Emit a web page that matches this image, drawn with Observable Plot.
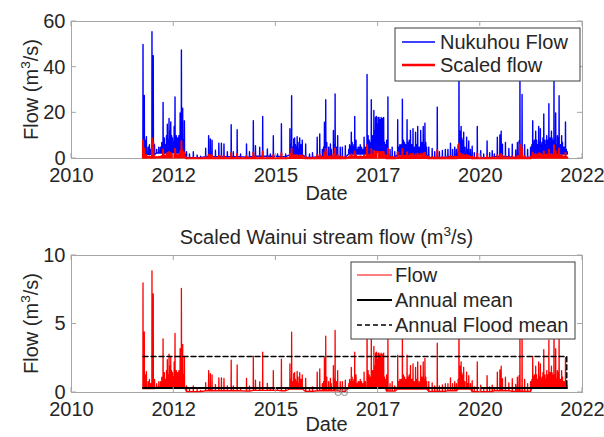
<!DOCTYPE html>
<html>
<head>
<meta charset="utf-8">
<script src="https://cdn.jsdelivr.net/npm/d3@7"></script>
<script src="https://cdn.jsdelivr.net/npm/@observablehq/plot@0.6"></script>
<style>
  html, body { margin: 0; padding: 0; background: #fff; }
  #chart { position: relative; width: 604px; height: 437px; background: #fff; overflow: hidden; }
  #chart svg { position: absolute; left: 0; }
</style>
</head>
<body>
<div id="chart"></div>
<script>
// ---- Axis ticks (decimal years) and their labels ----
const xTickYears = [2010.5, 2012.9, 2015.3, 2017.7, 2020.1, 2022.5];
const xTickLabels = ["2010", "2012", "2015", "2017", "2020", "2022"];
const topYTicks = [0, 20, 40, 60];
const bottomYTicks = [0, 5, 10];

// ---- Nukuhou flow events: [decimal year, peak flow m3/s] ----
const nukuhouEvents = [
  [2012.18, 50], [2012.21, 27.6], [2012.26, 9.5], [2012.39, 55.5], [2012.42, 45],
  [2012.50, 4], [2012.55, 5], [2012.59, 5], [2012.65, 24.5], [2012.71, 6],
  [2012.75, 15], [2012.79, 17.5], [2012.83, 16], [2012.87, 9], [2012.93, 27],
  [2012.96, 10], [2012.99, 9], [2013.02, 10], [2013.05, 20], [2013.08, 47.5],
  [2013.11, 22], [2013.15, 16.5], [2013.20, 3], [2013.27, 2], [2013.36, 3],
  [2013.45, 1.5], [2013.53, 1], [2013.65, 4.5], [2013.72, 10], [2013.76, 8.6],
  [2013.80, 8], [2013.88, 3.6], [2013.96, 6.7], [2014.02, 6.7], [2014.08, 6.4],
  [2014.16, 3], [2014.25, 14.8], [2014.30, 3], [2014.39, 12.6], [2014.47, 2],
  [2014.61, 6.4], [2014.68, 3], [2014.77, 16.6], [2014.82, 5.6], [2014.92, 4.9],
  [2014.99, 18.4], [2015.10, 4.2], [2015.17, 2], [2015.24, 10], [2015.34, 2],
  [2015.43, 15.2], [2015.53, 2], [2015.63, 13], [2015.67, 27.5], [2015.72, 8.6],
  [2015.76, 6], [2015.80, 9.6], [2015.86, 9], [2015.92, 8], [2016.00, 6.4],
  [2016.09, 2], [2016.16, 2.5], [2016.27, 9.3], [2016.33, 10.8], [2016.39, 4],
  [2016.44, 15.9], [2016.47, 25.7], [2016.54, 5], [2016.58, 6.4], [2016.65, 12.3],
  [2016.69, 28.3], [2016.75, 10], [2016.81, 5], [2016.86, 4.9], [2016.93, 5.6],
  [2017.01, 4], [2017.07, 11.5], [2017.11, 5], [2017.15, 18.4], [2017.21, 4],
  [2017.25, 4.9], [2017.31, 5], [2017.37, 9.3], [2017.44, 36.8], [2017.49, 8],
  [2017.54, 25.7], [2017.57, 10], [2017.60, 21], [2017.64, 18], [2017.66, 18.4],
  [2017.70, 18], [2017.72, 18], [2017.75, 17], [2017.77, 18], [2017.80, 17.5],
  [2017.83, 18], [2017.87, 6], [2017.93, 27], [2017.98, 4], [2018.03, 5],
  [2018.09, 3], [2018.16, 17], [2018.21, 6], [2018.27, 26], [2018.32, 7],
  [2018.38, 17], [2018.43, 8], [2018.46, 12.3], [2018.50, 6], [2018.52, 13],
  [2018.58, 11.5], [2018.63, 14], [2018.70, 12.3], [2018.76, 14], [2018.80, 15.5],
  [2018.84, 5], [2018.89, 5], [2018.97, 4.4], [2019.03, 3], [2019.09, 22.5],
  [2019.14, 3], [2019.21, 3.5], [2019.28, 4], [2019.34, 4], [2019.40, 6.7],
  [2019.45, 4], [2019.50, 5], [2019.54, 4], [2019.60, 40], [2019.62, 12],
  [2019.65, 14], [2019.68, 8], [2019.71, 11.5], [2019.78, 9.3], [2019.83, 7.7],
  [2019.87, 4], [2019.91, 5.4], [2019.96, 2.5], [2020.03, 14], [2020.11, 3.4],
  [2020.18, 2], [2020.26, 7.7], [2020.32, 2.5], [2020.38, 3.4], [2020.43, 2],
  [2020.50, 9.3], [2020.56, 10.3], [2020.59, 12], [2020.62, 6.3], [2020.69, 7],
  [2020.77, 4.4], [2020.85, 6.3], [2020.93, 3.7], [2020.97, 7], [2021.01, 7.7],
  [2021.03, 38], [2021.08, 28], [2021.14, 6], [2021.21, 4], [2021.28, 5],
  [2021.33, 16.5], [2021.37, 8], [2021.40, 12], [2021.44, 6], [2021.47, 14],
  [2021.51, 13], [2021.55, 7], [2021.59, 19.5], [2021.62, 8], [2021.66, 10],
  [2021.71, 24], [2021.74, 9], [2021.77, 12], [2021.80, 8], [2021.83, 36],
  [2021.87, 20], [2021.91, 10], [2021.95, 27.5], [2021.98, 6], [2022.01, 10],
  [2022.05, 5], [2022.10, 16], [2022.14, 3]
];

// ---- Smaller freshes between the main events (wet spells) ----
const nukuhouFreshes = [
  [2012.23, 8], [2012.30, 5], [2012.33, 6], [2012.36, 4], [2012.45, 6],
  [2012.62, 7], [2012.68, 9], [2012.73, 10], [2012.77, 8], [2012.81, 12],
  [2012.85, 10], [2012.89, 7], [2012.91, 14], [2013.00, 7], [2013.035, 9],
  [2013.065, 10], [2013.13, 8],
  [2015.65, 6], [2015.695, 5], [2015.74, 9], [2015.78, 5], [2015.82, 7],
  [2015.84, 4], [2015.89, 6],
  [2016.42, 5], [2016.495, 7], [2016.60, 4], [2016.67, 6], [2016.72, 5],
  [2017.03, 6], [2017.05, 5], [2017.09, 7], [2017.13, 6], [2017.18, 8],
  [2017.23, 5], [2017.28, 6], [2017.34, 4], [2017.40, 5], [2017.465, 10],
  [2017.515, 7], [2017.62, 12], [2017.68, 15], [2017.735, 14], [2017.785, 10],
  [2017.85, 7], [2017.90, 8],
  [2018.185, 5], [2018.24, 6], [2018.295, 8], [2018.35, 6], [2018.405, 7],
  [2018.48, 6], [2018.55, 5], [2018.605, 6], [2018.665, 5], [2018.73, 7],
  [2018.78, 6], [2018.82, 7],
  [2019.58, 6], [2019.665, 9], [2019.695, 6], [2019.74, 5], [2019.80, 4],
  [2021.31, 6], [2021.35, 7], [2021.385, 5], [2021.42, 8], [2021.49, 7],
  [2021.53, 6], [2021.57, 9], [2021.64, 6], [2021.69, 8], [2021.725, 7],
  [2021.755, 6], [2021.785, 9], [2021.815, 6], [2021.85, 8], [2021.89, 6],
  [2021.93, 9], [2021.965, 5], [2022.03, 7], [2022.075, 5], [2022.12, 4]
];

// ---- Nukuhou base flow between events: level in force from each year ----
const baseFlowYears  = [2012.15, 2012.50, 2013.17, 2013.60, 2014.50, 2014.75, 2015.40, 2015.62, 2015.95, 2016.20, 2016.80, 2017.00, 2017.90, 2018.15, 2018.88, 2019.30, 2019.56, 2019.90, 2020.40, 2020.80, 2021.30];
const baseFlowLevels = [1.8,     2.4,     0.4,     0.8,     0.6,     1.0,     0.8,     1.6,     0.5,     0.8,     0.5,     2.0,     0.6,     1.6,     0.5,     0.8,     1.5,     0.4,     0.8,     0.5,     2.0];

// Wainui flow = Nukuhou flow scaled by catchment ratio
const WAINUI_SCALE = 0.16;

// ---- Annual statistics of the scaled Wainui flow ----
const annualMeanYears = [2012.18, 2022.13];
const annualMeanFlow  = [0.32, 0.32];
const floodMeanYears  = [2012.18, 2022.13, 2022.13];
const floodMeanFlow   = [2.62, 2.62, 0.32];

// Low-flow markers on the Wainui record
const lowFlowMarkYears = [2016.76, 2016.91];

// ---- Helpers ----
const FONT = '"Liberation Sans", Arial, Helvetica, sans-serif';
const FS = 20;
const TEXT = "#262626";
const BOX = "#a6a6a6";

function yearToDate(y) {
  const yr = Math.floor(y);
  const a = Date.UTC(yr, 0, 1), b = Date.UTC(yr + 1, 0, 1);
  return new Date(a + (y - yr) * (b - a));
}
function baseAt(t) {
  let v = baseFlowLevels[0];
  for (let i = 0; i < baseFlowYears.length; i++) if (baseFlowYears[i] <= t) v = baseFlowLevels[i];
  return v;
}

// Flow trace: base flow, event peak, back to base flow
const allEvents = [...nukuhouEvents, ...nukuhouFreshes].sort((a, b) => a[0] - b[0]);
const nukuhou = [];
for (const [t, peak] of allEvents) {
  const b = baseAt(t);
  nukuhou.push({date: yearToDate(t - 0.003), flow: b});
  nukuhou.push({date: yearToDate(t), flow: peak});
  nukuhou.push({date: yearToDate(t + 0.004), flow: b});
}
const wainui = nukuhou.map(d => ({date: d.date, flow: d.flow * WAINUI_SCALE}));
const annualMean = annualMeanYears.map((t, i) => ({date: yearToDate(t), flow: annualMeanFlow[i]}));
const floodMean = floodMeanYears.map((t, i) => ({date: yearToDate(t), flow: floodMeanFlow[i]}));
const lowFlowMarks = lowFlowMarkYears.map(t => ({date: yearToDate(t), flow: 0}));

const xTicks = xTickYears.map(yearToDate);
const xDomain = [xTicks[0], xTicks[xTicks.length - 1]];
const xLabelOf = new Map(xTicks.map((d, i) => [+d, xTickLabels[i]]));
const fmtX = d => xLabelOf.get(+d);

const style = {fontFamily: FONT, fontSize: FS + "px", color: TEXT, background: "transparent", overflow: "visible"};

function axes(yTicks) {
  return [
    Plot.axisX({ticks: xTicks, tickFormat: fmtX, tickSize: 0, tickPadding: 9, label: null}),
    Plot.axisY({ticks: yTicks, tickSize: 0, tickPadding: 6, label: null})
  ];
}

// MATLAB-style inward ticks on all four sides, placed through the plot's scales
function innerTicks(svg, yTicks) {
  const x = svg.scale("x"), y = svg.scale("y");
  const [y0, y1] = y.domain;
  const top = y.apply(y1), bottom = y.apply(y0);
  const left = x.apply(xDomain[0]), right = x.apply(xDomain[1]);
  const g = d3.select(svg).append("g").attr("stroke", BOX).attr("stroke-width", 1);
  for (const t of xTicks) {
    const px = x.apply(t);
    g.append("line").attr("x1", px).attr("x2", px).attr("y1", top).attr("y2", top + 5);
    g.append("line").attr("x1", px).attr("x2", px).attr("y1", bottom).attr("y2", bottom - 5);
  }
  for (const v of yTicks) {
    const py = y.apply(v);
    g.append("line").attr("x1", left).attr("x2", left + 5).attr("y1", py).attr("y2", py);
    g.append("line").attr("x1", right).attr("x2", right - 5).attr("y1", py).attr("y2", py);
  }
  return {top, bottom, left, right};
}

// Text with a superscript "3" in m3/s
function unitText(sel, before, after, size) {
  sel.append("tspan").text(before);
  sel.append("tspan").attr("dy", -size * 0.38).attr("font-size", size * 0.68).text("3");
  sel.append("tspan").attr("dy", size * 0.38).text(after);
}

function axisTitles(svg, frame, dateBaseline) {
  const s = d3.select(svg);
  s.append("text").attr("x", (frame.left + frame.right) / 2).attr("y", dateBaseline)
    .attr("text-anchor", "middle").attr("fill", TEXT).attr("font-family", FONT).attr("font-size", FS)
    .text("Date");
  const yl = s.append("text")
    .attr("transform", `translate(${frame.left - 33},${(frame.top + frame.bottom) / 2}) rotate(-90)`)
    .attr("text-anchor", "middle").attr("fill", TEXT).attr("font-family", FONT).attr("font-size", FS);
  unitText(yl, "Flow (m", "/s)", FS);
}

function legend(svg, box, items) {
  const s = d3.select(svg);
  s.append("rect").attr("x", box.x).attr("y", box.y).attr("width", box.w).attr("height", box.h)
    .attr("fill", "#fff").attr("stroke", "#3c3c3c").attr("stroke-width", 1);
  items.forEach((it, i) => {
    const cy = box.y + box.pad + i * box.step;
    s.append("line").attr("x1", box.x + box.lx0).attr("x2", box.x + box.lx1).attr("y1", cy).attr("y2", cy)
      .attr("stroke", it.stroke).attr("stroke-width", it.width).attr("stroke-dasharray", it.dash || null);
    s.append("text").attr("x", box.x + box.tx).attr("y", cy + 7)
      .attr("text-anchor", "start")
      .attr("fill", TEXT).attr("font-family", FONT).attr("font-size", FS).text(it.label);
  });
}

const chart = document.getElementById("chart");

// ---- Top panel: Nukuhou flow and scaled flow ----
const topH = 212;
const topPlot = Plot.plot({
  width: 604, height: topH,
  marginLeft: 71, marginRight: 22, marginTop: 21, marginBottom: topH - 158,
  x: {type: "utc", domain: xDomain},
  y: {domain: [0, 60]},
  style,
  marks: [
    Plot.frame({stroke: BOX}),
    Plot.line(nukuhou, {x: "date", y: "flow", stroke: "#0000ff", strokeWidth: 1.4}),
    Plot.line(wainui, {x: "date", y: "flow", stroke: "#ff0000", strokeWidth: 2}),
    ...axes(topYTicks)
  ]
});
topPlot.style.top = "0px";
chart.appendChild(topPlot);
const topFrame = innerTicks(topPlot, topYTicks);
axisTitles(topPlot, topFrame, 200);
legend(topPlot, {x: 395, y: 28, w: 185, h: 53, pad: 14, step: 23, lx0: 7, lx1: 40, tx: 45}, [
  {label: "Nukuhou Flow", stroke: "#0000ff", width: 1.3},
  {label: "Scaled flow", stroke: "#ff0000", width: 2.5}
]);

// ---- Bottom panel: scaled Wainui flow with annual statistics ----
const botTop = 212, botH = 437 - botTop;
const botPlot = Plot.plot({
  width: 604, height: botH,
  marginLeft: 71, marginRight: 22, marginTop: 255 - botTop, marginBottom: botH - (392 - botTop),
  x: {type: "utc", domain: xDomain},
  y: {domain: [0, 10]},
  style,
  marks: [
    Plot.frame({stroke: BOX}),
    Plot.line(wainui, {x: "date", y: "flow", stroke: "#ff0000", strokeWidth: 1.3}),
    Plot.line(annualMean, {x: "date", y: "flow", stroke: "#000", strokeWidth: 2}),
    Plot.line(floodMean, {x: "date", y: "flow", stroke: "#000", strokeWidth: 1.5, strokeDasharray: "5,3"}),
    Plot.dot(lowFlowMarks, {x: "date", y: "flow", r: 3, stroke: "#8a8a8a", strokeWidth: 1}),
    ...axes(bottomYTicks)
  ]
});
botPlot.style.top = botTop + "px";
chart.appendChild(botPlot);
const botFrame = innerTicks(botPlot, bottomYTicks);
axisTitles(botPlot, botFrame, 431 - botTop);
const title = d3.select(botPlot).append("text")
  .attr("x", (botFrame.left + botFrame.right) / 2).attr("y", 244 - botTop)
  .attr("text-anchor", "middle").attr("fill", TEXT).attr("font-family", FONT).attr("font-size", FS);
unitText(title, "Scaled Wainui stream flow (m", "/s)", FS);
legend(botPlot, {x: 351, y: 262 - botTop, w: 224, h: 77, pad: 13, step: 25, lx0: 6, lx1: 41, tx: 44}, [
  {label: "Flow", stroke: "#ff0000", width: 1},
  {label: "Annual mean", stroke: "#000", width: 2},
  {label: "Annual Flood mean", stroke: "#000", width: 1.5, dash: "5,3"}
]);
</script>
</body>
</html>
